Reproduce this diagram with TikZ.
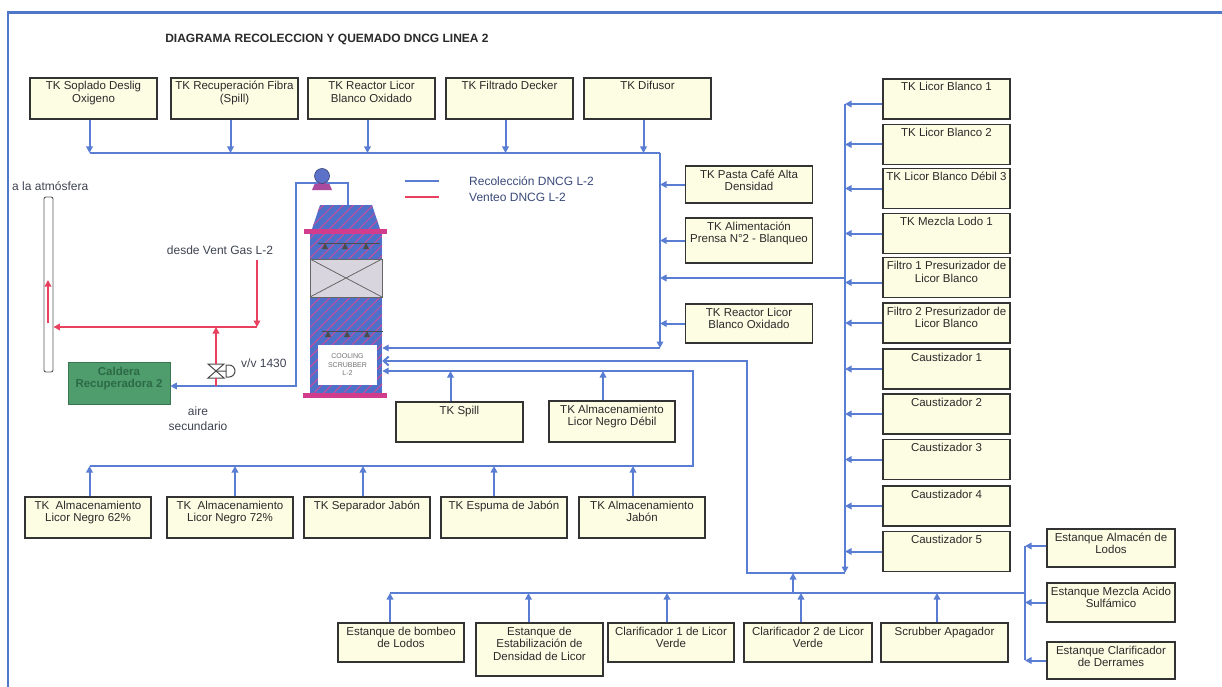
\documentclass[tikz,border=0pt]{standalone}
\usepackage{fontspec}
\setmainfont{Liberation Sans}
\usetikzlibrary{arrows.meta,patterns.meta,calc}

\definecolor{flowblue}{HTML}{5A7DD4}
\definecolor{ventred}{HTML}{E8405E}
\definecolor{tankfill}{HTML}{FDFDE4}
\definecolor{tankline}{HTML}{333333}
\definecolor{tanktextc}{HTML}{2A2A2A}
\definecolor{frameblue}{HTML}{4E76C9}
\definecolor{towerblue}{HTML}{4F70C8}
\definecolor{hatchpink}{HTML}{C94C9E}
\definecolor{flange}{HTML}{D23C8C}
\definecolor{packgray}{HTML}{D9D5DE}
\definecolor{boilergreen}{HTML}{4F9D6D}
\definecolor{boilertext}{HTML}{2C6A47}
\definecolor{labelgray}{HTML}{3F4452}
\definecolor{legendtext}{HTML}{3A4A7A}
\definecolor{titlec}{HTML}{2A2A2A}
\definecolor{pumpblue}{HTML}{5B72C8}

% text block of a tank: width, height, lines (top aligned)
\newcommand\tanktext[3]{\parbox[c][#2pt][t]{#1pt}{\centering\fontsize{11.5}{12.5}\selectfont\color{tanktextc}\rule{0pt}{12pt}#3\par}}

\begin{document}
\begin{tikzpicture}[x=1pt,y=-1pt,
  tank/.style={draw=tankline, line width=1.2pt, fill=tankfill, inner sep=0pt},
  pipe/.style={draw=flowblue, line width=2pt},
  flow/.style={pipe, -{Triangle[length=6.5pt,width=6.5pt]}},
  openflow/.style={pipe, -{Straight Barb[length=5pt,width=9pt]}},
  vent/.style={draw=ventred, line width=2pt, -{Triangle[length=6.5pt,width=6.5pt]}},
  ventpipe/.style={draw=ventred, line width=2pt},
  lbl/.style={font=\fontsize{12}{15}\selectfont, text=labelgray, inner sep=0pt},
  towerfill/.style={fill=towerblue, postaction={pattern={Lines[angle=45,distance=7pt,line width=1pt]}, pattern color=hatchpink}}
]
\useasboundingbox (0,0) rectangle (1222,687);
\fill[white] (0,0) rectangle (1222,687);

% frame
\draw[frameblue, line width=2pt] (8,13) -- (8,687);
\draw[frameblue, line width=3pt] (7,13) -- (1222,13);

% title
\node[inner sep=0pt, font=\fontsize{12}{14}\selectfont\bfseries, text=titlec] (title) at (327,39) {DIAGRAMA RECOLECCION Y QUEMADO DNCG LINEA 2};

% ---------- top row of tanks ----------
\node[tank] (tk1) at (93.5,98.5)  {\tanktext{127}{41}{TK Soplado Deslig\\Oxigeno}};
\node[tank] (tk2) at (234.5,98.5) {\tanktext{127}{41}{TK Recuperación Fibra\\(Spill)}};
\node[tank] (tk3) at (371.5,98.5) {\tanktext{127}{41}{TK Reactor Licor\\Blanco Oxidado}};
\node[tank] (tk4) at (509.5,98.5) {\tanktext{127}{41}{TK Filtrado Decker}};
\node[tank] (tk5) at (647.5,98.5) {\tanktext{127}{41}{TK Difusor}};

% ---------- middle tanks ----------
\node[tank] (pasta)  at (749,184.5) {\tanktext{127}{37}{TK Pasta Café Alta\\Densidad}};
\node[tank] (prensa) at (749,240.5) {\tanktext{127}{45}{TK Alimentación\\Prensa N°2 - Blanqueo}};
\node[tank] (reacb)  at (749,323.5) {\tanktext{127}{39}{TK Reactor Licor\\Blanco Oxidado}};

% ---------- right column ----------
\node[tank] (lb1)  at (946.5,99)    {\tanktext{127}{40}{TK Licor Blanco 1}};
\node[tank] (lb2)  at (946.5,144.5) {\tanktext{127}{40}{TK Licor Blanco 2}};
\node[tank] (lb3)  at (946.5,188.5) {\tanktext{127}{40}{TK Licor Blanco Débil 3}};
\node[tank] (lodo) at (946.5,233.5) {\tanktext{127}{40}{TK Mezcla Lodo 1}};
\node[tank] (fil1) at (946.5,277.5) {\tanktext{127}{40}{Filtro 1 Presurizador de\\Licor Blanco}};
\node[tank] (fil2) at (946.5,323)   {\tanktext{127}{40}{Filtro 2 Presurizador de\\Licor Blanco}};
\node[tank] (ca1)  at (946.5,369)   {\tanktext{127}{40}{Caustizador 1}};
\node[tank] (ca2)  at (946.5,414)   {\tanktext{127}{40}{Caustizador 2}};
\node[tank] (ca3)  at (946.5,459.5) {\tanktext{127}{40}{Caustizador 3}};
\node[tank] (ca4)  at (946.5,506)   {\tanktext{127}{40}{Caustizador 4}};
\node[tank] (ca5)  at (946.5,551.5) {\tanktext{127}{40}{Caustizador 5}};

% ---------- tanks below the scrubber ----------
\node[tank] (spill) at (459.5,422) {\tanktext{127}{40}{TK Spill}};
\node[tank] (lnd)   at (612,421.5) {\tanktext{126}{41}{TK Almacenamiento\\Licor Negro Débil}};

\node[tank] (ln62) at (88,517.5)  {\tanktext{126}{41}{TK\ \ Almacenamiento\\Licor Negro 62\%}};
\node[tank] (ln72) at (230,517.5) {\tanktext{126}{41}{TK\ \ Almacenamiento\\Licor Negro 72\%}};
\node[tank] (sep)  at (367,517.5) {\tanktext{126}{41}{TK Separador Jabón}};
\node[tank] (esp)  at (504,517.5) {\tanktext{126}{41}{TK Espuma de Jabón}};
\node[tank] (alj)  at (642,517.5) {\tanktext{126}{41}{TK Almacenamiento\\Jabón}};

% ---------- bottom row ----------
\node[tank] (ebl) at (401,642.5)   {\tanktext{126}{39}{Estanque de bombeo\\de Lodos}};
\node[tank] (eed) at (539.5,649.5) {\tanktext{127}{53}{Estanque de\\Estabilización de\\Densidad de Licor}};
\node[tank] (cl1) at (671,642.5)   {\tanktext{126}{39}{Clarificador 1 de Licor\\Verde}};
\node[tank] (cl2) at (808,642.5)   {\tanktext{128}{39}{Clarificador 2 de Licor\\Verde}};
\node[tank] (sap) at (944.5,642.5) {\tanktext{127}{39}{Scrubber Apagador}};

\node[tank] (eal) at (1111,548)   {\tanktext{128}{38}{Estanque Almacén de\\Lodos}};
\node[tank] (emz) at (1111,602.5) {\tanktext{128}{39}{Estanque Mezcla Acido\\Sulfámico}};
\node[tank] (ecd) at (1111,660.5) {\tanktext{128}{37}{Estanque Clarificador\\de Derrames}};

% ---------- cooling scrubber ----------
\node[towerfill, inner sep=0pt, minimum width=72pt, minimum height=161pt] (tower) at (346,312.5) {};
\path[towerfill] (320,205) -- (372,205) -- (380,229) -- (312,229) -- cycle;
\fill[flange] (304,229) rectangle (387,234);
\fill[flange] (303,393) rectangle (387,398);
% packing section
\filldraw[fill=packgray, draw=black!60, line width=0.8pt] (310,259) rectangle (382,297);
\draw[black!60, line width=0.8pt] (310,259) -- (382,297) (382,259) -- (310,297);
% spray headers
\draw[black!70, line width=0.8pt] (318,243) -- (380,243);
\foreach \nx in {325,345,366}
  \fill[black!70] (\nx,243) -- (\nx+3,249) -- (\nx-3,249) -- cycle;
\draw[black!70, line width=0.8pt] (322,331) -- (383,331);
\foreach \nx in {328,347,367}
  \fill[black!70] (\nx,331) -- (\nx+3,337) -- (\nx-3,337) -- cycle;
\node[fill=white, inner sep=0pt, minimum width=59pt, minimum height=40pt, align=center,
      font=\fontsize{7}{8.5}\selectfont, text=black!55] (scrlabel) at (347.5,365) {COOLING\\SCRUBBER\\L-2};

% fan on top of the scrubber
\fill[flange!70!towerblue] (315,183) -- (329,183) -- (332,190) -- (312,190) -- cycle;
\node[circle, fill=pumpblue, draw=pumpblue!60!black, line width=0.6pt, minimum size=15pt, inner sep=0pt] (pump) at (322,176) {};

% ---------- stack, boiler, valve ----------
\node[draw=black!65, fill=white, rounded corners=2pt, line width=0.9pt, minimum width=9pt, minimum height=175pt, inner sep=0pt] (stack) at (48.5,284.5) {};
\node[fill=boilergreen, draw=boilergreen!75!black, line width=0.6pt, inner sep=0pt] (cald) at (119,383)
  {\parbox[c][42pt][t]{102pt}{\centering\fontsize{11.5}{12.5}\selectfont\bfseries\color{boilertext}\rule{0pt}{13pt}Caldera\\Recuperadora 2\par}};

\coordinate (vv) at (216,371);
\draw[black!70, line width=1pt] (208,364) -- (224,364) -- (208,378) -- (224,378) -- cycle;
\draw[black!70, line width=1pt] (216,371) -- (226,371) (226,365) -- (229,365) arc[start angle=90, end angle=-90, radius=6pt] -- (226,377) -- cycle;

% ---------- texts ----------
\node[lbl, anchor=west] (atm) at (12,186) {a la atmósfera};
\node[lbl] (desde) at (220,250) {desde Vent Gas L-2};
\node[lbl, anchor=west] (vvlbl) at (241,363) {v/v 1430};
\node[lbl, align=center] (aire) at (198,419) {aire\\secundario};

% legend
\coordinate (lgA) at (405,181);
\coordinate (lgB) at (439,181);
\coordinate (lgC) at (405,197);
\coordinate (lgD) at (439,197);
\draw[pipe, line width=2.4pt] (lgA) -- (lgB);
\draw[ventpipe, line width=2.4pt] (lgC) -- (lgD);
\node[lbl, anchor=west, text=legendtext] (lg1) at (469,181) {Recolección DNCG L-2};
\node[lbl, anchor=west, text=legendtext] (lg2) at (469,197) {Venteo DNCG L-2};

% ---------- collection lines ----------
\coordinate (tb) at (660,153);
\coordinate (tbEnd) at (660,348);
\foreach \t in {tk1,tk2,tk3,tk4,tk5}
  \draw[flow] ([xshift=-4pt]\t.south) -- ([xshift=-4pt]\t.south |- tb);
\draw[pipe] ([xshift=-4pt]tk1.south |- tb) -- (tb);
\draw[flow] (tb) -- (tbEnd);
\draw[flow] (tbEnd) -- (tbEnd -| tower.east);
\foreach \t in {pasta,prensa,reacb}
  \draw[flow] (\t.west) -- (\t.west -| tb);

% right header
\coordinate (rbTop) at (845,104);
\coordinate (rbBot) at (845,573);
\draw[flow] ([yshift=-5pt]lb1.west) -- ([yshift=-5pt]lb1.west -| rbTop);
\draw[flow] ([yshift=-5pt]fil1.west) -- ([yshift=-5pt]fil1.west -| rbTop);
\foreach \t in {lb2,lb3,lodo,fil2,ca1,ca2,ca3,ca4,ca5}
  \draw[flow] (\t.west) -- (\t.west -| rbTop);
\draw[flow] (rbTop) -- (rbBot);
\coordinate (lj) at (845,278);
\draw[flow] (lj) -- (lj -| tb);

\coordinate (mj) at (747,573);
\coordinate (mt) at (747,361);
\draw[openflow] (rbBot) -- (mj) -- (mt) -- (mt -| tower.east);

% bottom header
\coordinate (bj) at (793,593);
\coordinate (rvTop) at (1025,546);
\coordinate (rvBot) at (1025,660);
\draw[flow] (bj) -- (bj |- mj);
\draw[pipe] ([xshift=-11pt]ebl.north |- bj) -- (bj -| rvTop);
\draw[pipe] (rvTop) -- (rvBot);
\draw[flow] ([xshift=-11pt]ebl.north) -- ([xshift=-11pt]ebl.north |- bj);
\draw[flow] ([xshift=-11pt]eed.north) -- ([xshift=-11pt]eed.north |- bj);
\draw[flow] ([xshift=-4pt]cl1.north) -- ([xshift=-4pt]cl1.north |- bj);
\draw[flow] ([xshift=-7pt]cl2.north) -- ([xshift=-7pt]cl2.north |- bj);
\draw[flow] ([xshift=-7.5pt]sap.north) -- ([xshift=-7.5pt]sap.north |- bj);
\draw[flow] ([yshift=2pt]eal.west) -- ([yshift=2pt]eal.west -| rvTop);
\draw[flow] (emz.west) -- (emz.west -| rvTop);
\draw[flow] (ecd.west) -- (ecd.west -| rvTop);

% lower-left header
\coordinate (lbR) at (693,466);
\coordinate (lbRt) at (693,371);
\draw[flow] ([xshift=1.5pt]ln62.north |- lbR) -- (lbR) -- (lbRt) -- (lbRt -| tower.east);
\draw[flow] ([xshift=1.5pt]ln62.north) -- ([xshift=1.5pt]ln62.north |- lbR);
\draw[flow] ([xshift=5pt]ln72.north) -- ([xshift=5pt]ln72.north |- lbR);
\draw[flow] ([xshift=-4pt]sep.north) -- ([xshift=-4pt]sep.north |- lbR);
\draw[flow] ([xshift=-10pt]esp.north) -- ([xshift=-10pt]esp.north |- lbR);
\draw[flow] ([xshift=-9pt]alj.north) -- ([xshift=-9pt]alj.north |- lbR);
\draw[flow] ([xshift=-9pt]spill.north) -- ([xshift=-9pt]spill.north |- lbRt);
\draw[flow] ([xshift=-9pt]lnd.north) -- ([xshift=-9pt]lnd.north |- lbRt);

% scrubber outlet to the boiler
\coordinate (pl) at (296,386);
\coordinate (hoodIn) at (348,205);
\draw[flow] (pump.240) -| (pl) -- (pl -| cald.east);
\draw[pipe] (pump.300) -| (hoodIn);

% ---------- vent lines ----------
\coordinate (vj) at (216,327);
\coordinate (vg) at (257,327);
\coordinate (vgTop) at (257,260);
\coordinate (stkLow) at (48,323);
\coordinate (stkHigh) at (48,280);
\draw[vent] (vgTop) -- (vg);
\draw[vent] (vg) -- (vg -| stack.east);
\draw[vent] ([yshift=7pt]vv) -- (vj);
\draw[ventpipe] ([yshift=-7pt]vv) -- (vv |- pl);
\draw[vent] (stkLow) -- (stkHigh);

\end{tikzpicture}
\end{document}
